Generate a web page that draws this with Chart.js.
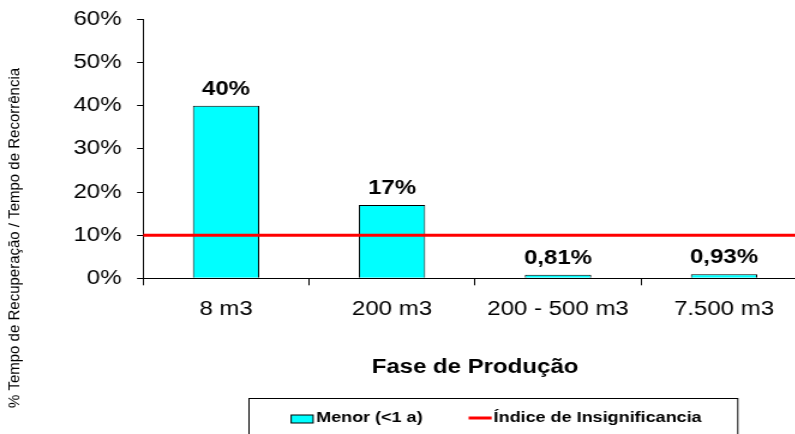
<!DOCTYPE html>
<html>
<head>
<meta charset="utf-8">
<script src="https://cdn.jsdelivr.net/npm/chart.js@4/dist/chart.umd.min.js"></script>
<style>
  html, body { margin: 0; padding: 0; background: #fff; overflow: hidden; }
  #wrap { width: 795px; height: 434px; overflow: hidden; position: relative; }
  /* the whole chart is drawn with a wide horizontal stretch */
  #chart { transform: scaleX(1.2); transform-origin: 0 0; display: block; }
</style>
</head>
<body>
<div id="wrap"><canvas id="chart" width="675" height="434"></canvas></div>
<script>
// Categories (production phase volumes)
const categories = ['8 m3', '200 m3', '200 - 500 m3', '7.500 m3'];
// Recovery time / recurrence time, in percent
const menorValues = [40, 17, 0.81, 0.93];
// Insignificance threshold, in percent
const insignificancia = 10;
// Y axis ticks
const yTicks = [0, 10, 20, 30, 40, 50, 60];

const seriesNames = ['Menor (<1 a)', 'Índice de Insignificancia'];
const yTitle = '% Tempo de Recuperação / Tempo de Recorrência';
const xTitle = 'Fase de Produção';

const STRETCH = 1.2;
const FONT = "'Liberation Sans', Arial, sans-serif";

function pct(v) {
  return (Number.isInteger(v) ? String(v) : v.toFixed(2).replace('.', ',')) + '%';
}

// Value labels above the bars
const barLabels = {
  id: 'barLabels',
  afterDatasetsDraw(chart) {
    const ctx = chart.ctx;
    const meta = chart.getDatasetMeta(0);
    ctx.save();
    ctx.font = 'bold 20px ' + FONT;
    ctx.fillStyle = '#000';
    ctx.textAlign = 'center';
    ctx.textBaseline = 'alphabetic';
    meta.data.forEach((bar, i) => {
      ctx.fillText(pct(menorValues[i]), bar.x, bar.y - 11);
    });
    ctx.restore();
  }
};

// Rotated y-axis title (drawn unstretched) and framed legend
const extras = {
  id: 'extras',
  afterDraw(chart) {
    const ctx = chart.ctx;
    ctx.save();
    ctx.translate(13, 238);
    ctx.scale(1 / STRETCH, 1);
    ctx.rotate(-Math.PI / 2);
    ctx.font = '15px ' + FONT;
    ctx.fillStyle = '#000';
    ctx.textAlign = 'center';
    ctx.textBaseline = 'middle';
    ctx.fillText(yTitle, 0, 0);
    ctx.restore();

    // legend frame
    const fL = 207.5, fR = 614.8, fT = 398.5, fB = 445;
    ctx.save();
    ctx.strokeStyle = '#000';
    ctx.lineWidth = 1;
    ctx.strokeRect(fL, fT, fR - fL, fB - fT);

    ctx.font = 'bold 15px ' + FONT;
    const w1 = ctx.measureText(seriesNames[0]).width;
    const w2 = ctx.measureText(seriesNames[1]).width;
    const boxW = 18.3, gapA = 2.5, gapB = 38.3, lineW = 19.2, gapC = 1.6;
    const total = boxW + gapA + w1 + gapB + lineW + gapC + w2;
    let x = (fL + fR) / 2 - total / 2 + 2.5;
    const ty = 418;
    const ds = chart.data.datasets;

    ctx.fillStyle = ds[0].backgroundColor;
    ctx.fillRect(x, 415, boxW, 8);
    ctx.strokeStyle = '#000';
    ctx.strokeRect(x, 415, boxW, 8);
    x += boxW + gapA;
    ctx.fillStyle = '#000';
    ctx.textAlign = 'left';
    ctx.textBaseline = 'middle';
    ctx.fillText(seriesNames[0], x, ty);
    x += w1 + gapB;

    ctx.strokeStyle = ds[1].borderColor;
    ctx.lineWidth = 3;
    ctx.beginPath();
    ctx.moveTo(x, ty);
    ctx.lineTo(x + lineW, ty);
    ctx.stroke();
    x += lineW + gapC;
    ctx.fillStyle = '#000';
    ctx.fillText(seriesNames[1], x, ty);
    ctx.restore();
  }
};

new Chart(document.getElementById('chart'), {
  type: 'bar',
  data: {
    labels: categories,
    datasets: [
      {
        type: 'bar',
        label: seriesNames[0],
        data: menorValues,
        backgroundColor: '#00FFFF',
        borderColor: '#000',
        borderWidth: 1,
        barPercentage: 0.4,
        categoryPercentage: 1.0,
        grouped: false,
        xAxisID: 'x',
        order: 2
      },
      {
        type: 'line',
        label: seriesNames[1],
        data: [{ x: -0.5, y: insignificancia }, { x: categories.length - 0.5, y: insignificancia }],
        borderColor: '#FF0000',
        borderWidth: 3,
        pointRadius: 0,
        fill: false,
        xAxisID: 'xl',
        order: 1
      }
    ]
  },
  options: {
    responsive: false,
    animation: false,
    devicePixelRatio: 1,
    layout: { padding: { left: 0, right: 2.5, top: 19.5, bottom: 0 } },
    plugins: { legend: { display: false }, tooltip: { enabled: false } },
    scales: {
      x: {
        type: 'category',
        offset: true,
        afterFit(s) { s.height = 434 - 278.3; s.paddingLeft = 0; s.paddingRight = 0; },
        grid: { offset: true, drawOnChartArea: false, drawTicks: true, tickLength: 7, color: '#000' },
        border: { display: true, color: '#000', width: 1 },
        ticks: { color: '#000', font: { family: FONT, size: 20 }, padding: 12, maxRotation: 0, autoSkip: false },
        title: {
          display: true, text: xTitle, color: '#000',
          font: { family: FONT, size: 20, weight: 'bold' },
          padding: { top: 0, bottom: 54.5 }
        }
      },
      xl: {
        type: 'linear',
        display: false,
        offset: false,
        grid: { offset: false },
        min: -0.5,
        max: categories.length - 0.5
      },
      y: {
        min: yTicks[0],
        max: yTicks[yTicks.length - 1],
        afterFit(s) { s.width = 119.2; s.paddingTop = 0; s.paddingBottom = 0; },
        afterBuildTicks(s) { s.ticks = yTicks.map(v => ({ value: v })); },
        grid: { drawOnChartArea: false, drawTicks: true, tickLength: 5, color: '#000' },
        border: { display: true, color: '#000', width: 1 },
        ticks: { color: '#000', font: { family: FONT, size: 20 }, padding: 13, callback: v => v + '%' }
      }
    }
  },
  plugins: [barLabels, extras]
});
</script>
</body>
</html>
